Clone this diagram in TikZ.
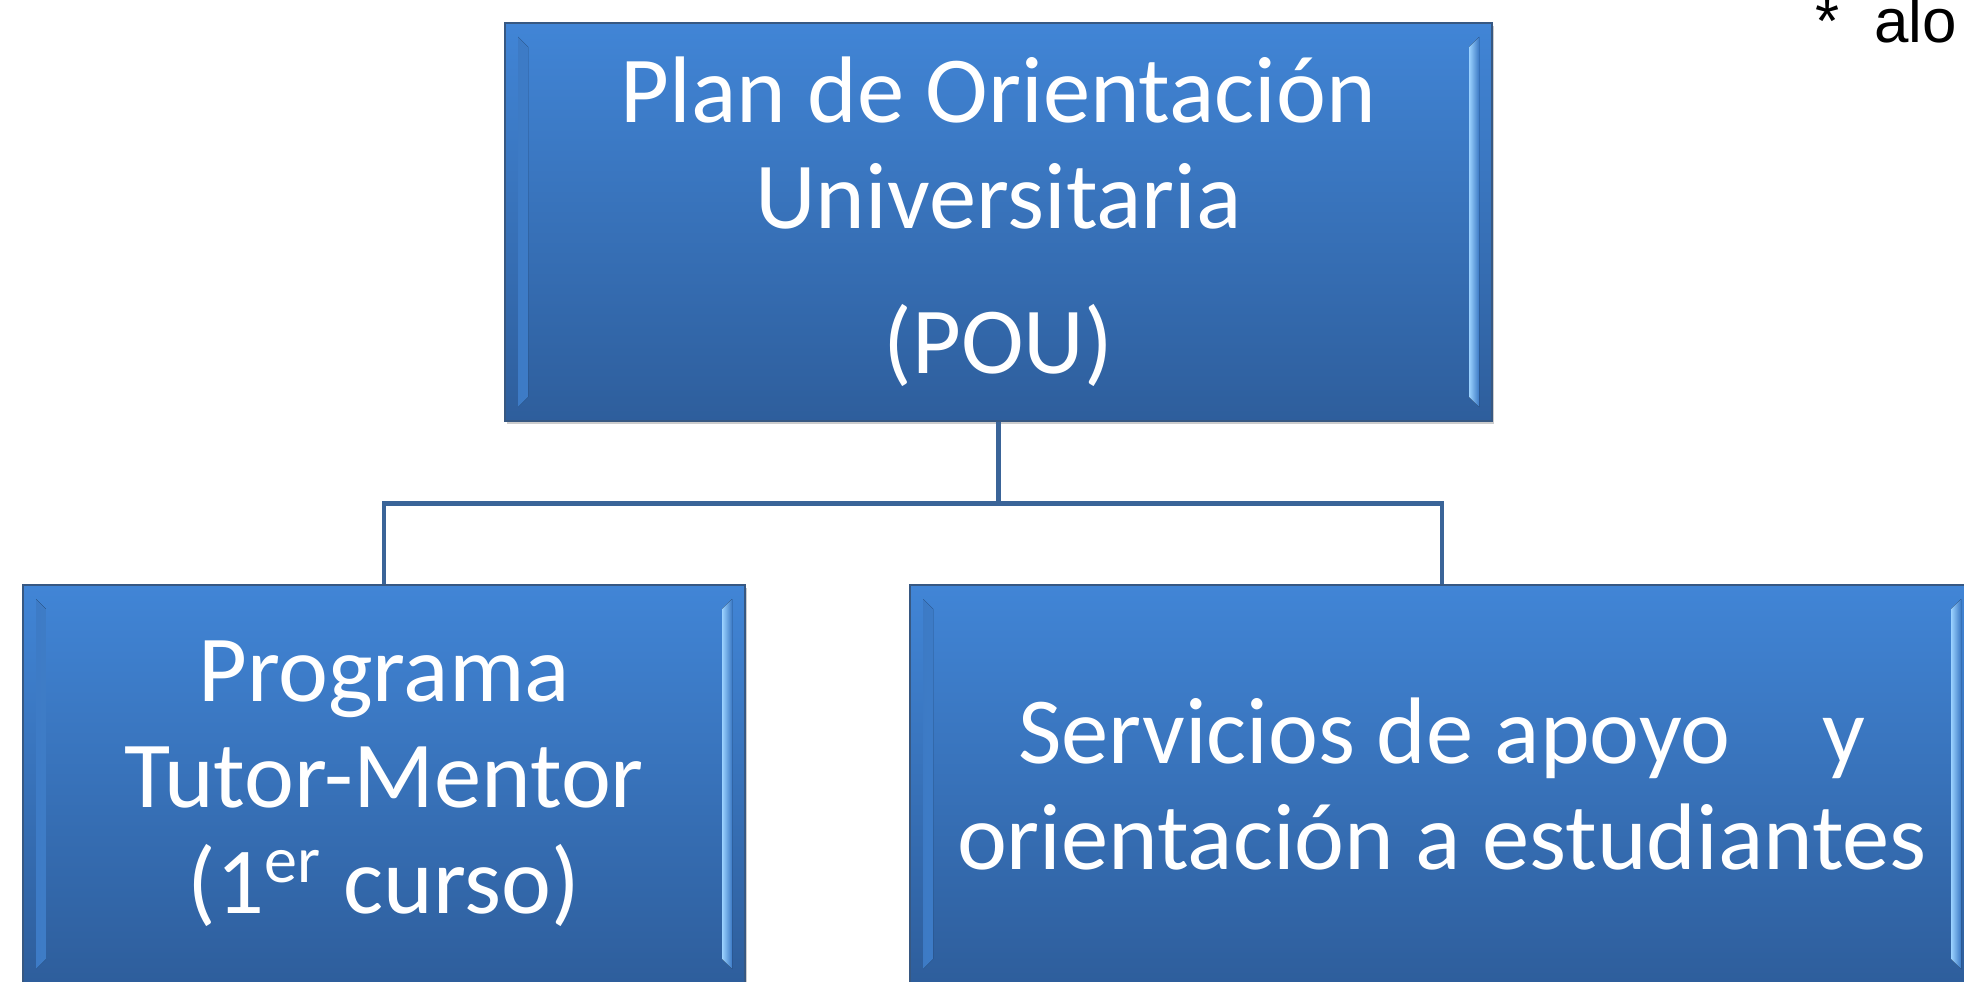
\documentclass[tikz,border=0pt]{standalone}
\usepackage{fontspec}
\setmainfont{Carlito}
\newfontfamily\notefont{Liberation Sans}
\usetikzlibrary{positioning,shadows}
\definecolor{boxtop}{RGB}{65,133,214}
\definecolor{boxbot}{RGB}{46,94,156}
\definecolor{boxline}{RGB}{55,88,130}
\definecolor{bevel}{RGB}{155,210,255}
\definecolor{linkcol}{RGB}{58,100,152}

\begin{document}
\begin{tikzpicture}[on grid,
    plan/.style={rectangle,draw=boxline,line width=0.6pt,top color=boxtop,bottom color=boxbot,
      minimum height=3.98cm,text=white,align=center,inner sep=0pt,
      font=\fontsize{26.9}{30.2}\selectfont,
      drop shadow={shadow xshift=0.015cm,shadow yshift=-0.03cm,opacity=0.4},
      path picture={
        \fill[left color=boxtop!70!boxbot,right color=bevel]
          ([shift={(0.13,-0.14)}]path picture bounding box.north west) -- ([shift={(0.23,-0.24)}]path picture bounding box.north west)
          -- ([shift={(0.23,0.24)}]path picture bounding box.south west) -- ([shift={(0.13,0.14)}]path picture bounding box.south west) -- cycle;
        \fill[right color=boxtop!70!boxbot,left color=bevel]
          ([shift={(-0.13,-0.14)}]path picture bounding box.north east) -- ([shift={(-0.23,-0.24)}]path picture bounding box.north east)
          -- ([shift={(-0.23,0.24)}]path picture bounding box.south east) -- ([shift={(-0.13,0.14)}]path picture bounding box.south east) -- cycle;
      }},
    link/.style={draw=linkcol,line width=1.4pt}]
  \useasboundingbox (0,0) rectangle (19.64,-9.82);
  \clip (0,0) rectangle (19.64,-9.82);
  \node[plan,minimum width=9.87cm] (pou) at (9.985,-2.22) {Plan de Orientación\\Universitaria\\[0.39cm](POU)};
  \node[plan,minimum width=7.22cm,below left=5.62cm and 6.145cm of pou] (tutor) {Programa\\Tutor-Mentor\\(1\textsuperscript{er} curso)};
  \node[plan,minimum width=10.64cm,below right=5.62cm and 4.435cm of pou] (servicios) {Servicios de apoyo\hspace{0.75em} y\\orientación a estudiantes};
  \draw[link] (pou.south) -- ++(0,-0.81) coordinate (fork) -| (tutor.north);
  \draw[link] (fork) -| (servicios.north);
  \node[anchor=base west,inner sep=0pt,font=\notefont\fontsize{17.6}{21}\selectfont] (nota) at (18.15,-0.43) {*~~alo};
\end{tikzpicture}
\end{document}
